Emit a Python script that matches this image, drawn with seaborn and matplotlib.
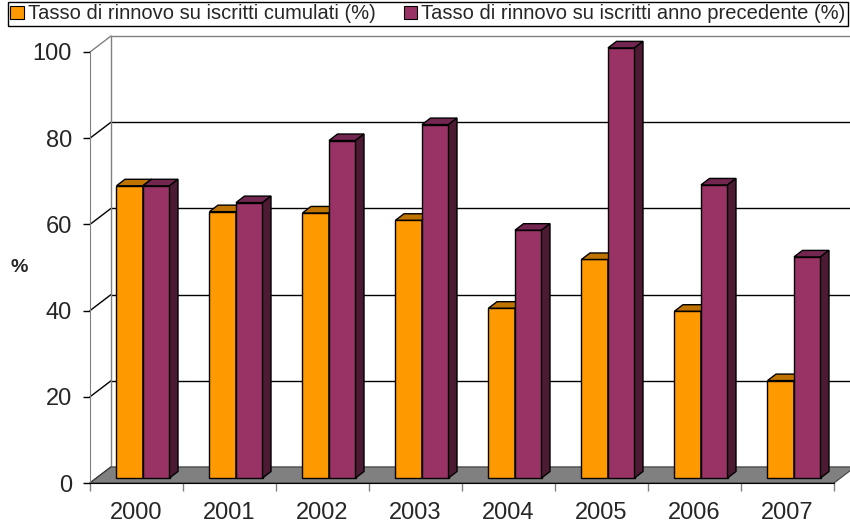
import numpy as np
import pandas as pd
import seaborn as sns
import matplotlib.pyplot as plt
from matplotlib.patches import Polygon, Patch
from matplotlib.transforms import Affine2D

# %%
anni = ['2000', '2001', '2002', '2003', '2004', '2005', '2006', '2007']
cumulati = [67.8, 61.8, 61.5, 59.8, 39.4, 50.7, 38.7, 22.6]
precedente = [67.8, 63.9, 78.3, 82.0, 57.5, 99.8, 68.0, 51.3]
serie = ['Tasso di rinnovo su iscritti cumulati (%)',
         'Tasso di rinnovo su iscritti anno precedente (%)']
yticks = [0, 20, 40, 60, 80, 100]

df = pd.DataFrame({
    'anno': anni * 2,
    'valore': cumulati + precedente,
    'serie': [serie[0]] * len(anni) + [serie[1]] * len(anni),
})

# %%
sns.set_style('white')
plt.rcParams['font.family'] = ['Liberation Sans', 'DejaVu Sans']

arancio, viola = '#FF9900', '#993366'
tops = {arancio: '#BF7300', viola: '#732650'}
sides = {arancio: '#BF7300', viola: '#4C1A33'}

W_PX, H_PX = 850, 524
fig = plt.figure(figsize=(W_PX / 100, H_PX / 100), dpi=100)
# front plane of the 3d box (pixels): x 90..834, y 483 (0) .. 52 (100)
ax = fig.add_axes([90 / W_PX, (H_PX - 483) / H_PX, 744 / W_PX, 431 / H_PX])
ax.set_xlim(-0.5, len(anni) - 0.5)
ax.set_ylim(0, 100)

px_x = 744 / len(anni)
px_y = 431 / 100
def off(dx_px, dy_px):
    return dx_px / px_x, dy_px / px_y

back = off(21, 16)
mid = off(6.5, 5)
depth = off(8.5, 6.5)

# %% walls and floor
x0, x1 = -0.5, len(anni) - 0.5
for v in yticks:
    col = '#808080' if v == 100 else 'black'
    ax.plot([x0 + back[0], x1 + back[0] + 0.5], [v + back[1]] * 2, color=col,
            lw=1, zorder=0.5, clip_on=False)
    ax.plot([x0, x0 + back[0]], [v, v + back[1]], color=col, lw=1,
            zorder=0.5, clip_on=False)
ax.plot([x0 + back[0]] * 2, [back[1], 100 + back[1]], color='#808080', lw=1,
        zorder=0.5, clip_on=False)
floor = Polygon([(x0, 0), (x1, 0), (x1 + back[0], back[1]), (x0 + back[0], back[1])],
                closed=True, facecolor='#808080', edgecolor='#404040', lw=0.8,
                zorder=1, clip_on=False)
ax.add_patch(floor)

# %% bars
sns.barplot(data=df, x='anno', y='valore', hue='serie', palette=[arancio, viola],
            width=0.57, saturation=1, edgecolor='black', linewidth=1,
            legend=False, ax=ax)
ax.set_xlim(-0.5, len(anni) - 0.5)
ax.set_ylim(0, 100)

shift = Affine2D().translate(mid[0], mid[1]) + ax.transData
for p in list(ax.patches):
    if p is floor:
        continue
    fc = arancio if p.get_facecolor()[1] > 0.4 else viola
    z = 3 if fc == arancio else 3.2
    bx, bw, bh = p.get_x(), p.get_width(), p.get_height()
    p.set_transform(shift)
    p.set_zorder(z)
    p.set_clip_on(False)
    top = Polygon([(bx, bh), (bx + bw, bh), (bx + bw + depth[0], bh + depth[1]),
                   (bx + depth[0], bh + depth[1])], closed=True,
                  facecolor=tops[fc], edgecolor='black', lw=1, zorder=z + 0.1,
                  transform=shift, clip_on=False)
    side = Polygon([(bx + bw, 0), (bx + bw + depth[0], depth[1]),
                    (bx + bw + depth[0], bh + depth[1]), (bx + bw, bh)], closed=True,
                   facecolor=sides[fc], edgecolor='black', lw=1, zorder=z + 0.1,
                   transform=shift, clip_on=False)
    ax.add_patch(top)
    ax.add_patch(side)

# %% axes
sns.despine(ax=ax, top=True, right=True)
ax.spines['left'].set_color('#808080')
ax.spines['bottom'].set_color('black')
ax.spines['left'].set_zorder(5)
ax.spines['bottom'].set_zorder(5)
ax.set_yticks(yticks)
ax.set_yticklabels([str(v) for v in yticks], fontsize=17)
ax.tick_params(axis='y', direction='out', length=5, width=1, color='black', pad=8, left=True)
ax.set_xticks(range(len(anni)))
ax.set_xticklabels(anni, fontsize=17)
ax.set_xticks(np.arange(-0.5, len(anni)), minor=True)
ax.tick_params(axis='x', which='major', length=0, pad=13.5)
ax.tick_params(axis='x', which='minor', direction='out', length=6, width=1,
               color='#808080', bottom=True)
ax.set_xlabel('')
ax.set_ylabel('')
ax.grid(False)
fig.text(19 / W_PX, 1 - 268 / H_PX, '%', fontsize=14, fontweight='bold',
         ha='center', va='center')

handles = [Patch(facecolor=arancio, edgecolor='black', lw=0.8),
           Patch(facecolor=viola, edgecolor='black', lw=0.8)]
leg = fig.legend(handles, serie, loc='upper left', ncol=2, mode='expand',
                 bbox_to_anchor=(8 / W_PX, 1 - 28 / H_PX, 840 / W_PX, 26 / H_PX),
                 borderaxespad=0, frameon=True, fancybox=False, edgecolor='black',
                 framealpha=1, borderpad=0.12, handlelength=0.65, handleheight=0.65,
                 handletextpad=0.2, fontsize=14.5)
leg.get_frame().set_linewidth(1)

fig.savefig('out.png', dpi=100)
